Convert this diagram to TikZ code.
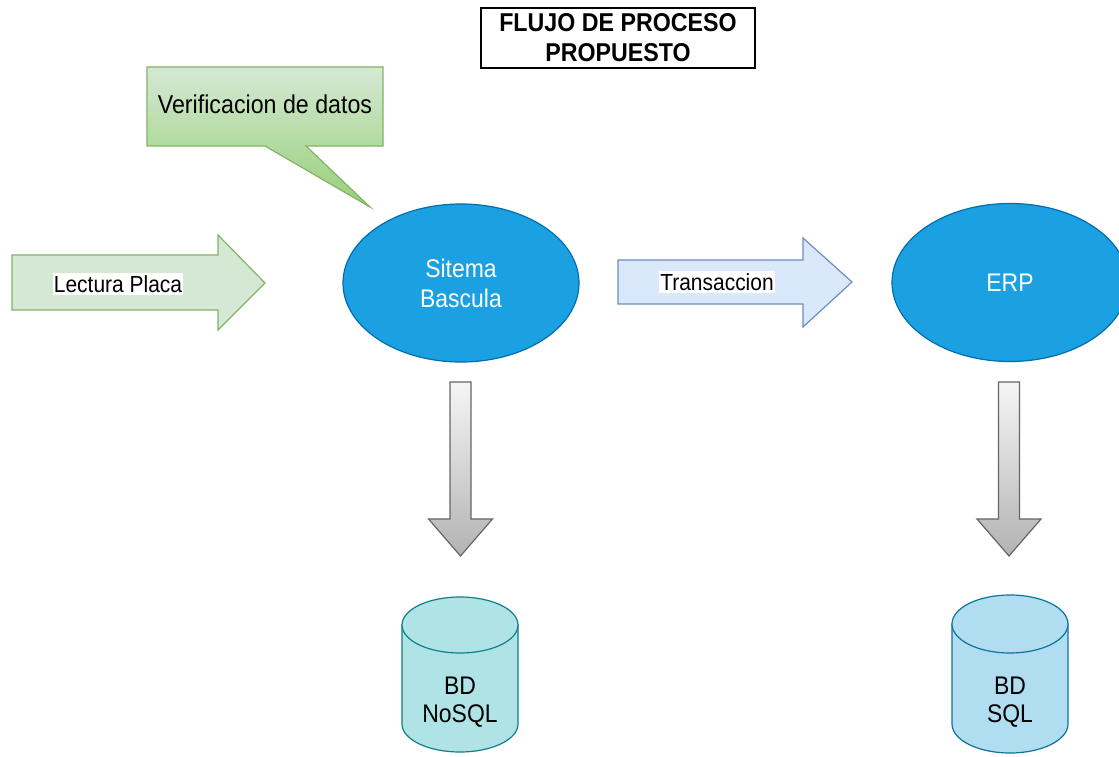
\documentclass[tikz,border=0pt]{standalone}
\usepackage{fontspec}
\setmainfont{Liberation Sans}[FakeStretch=0.9]
\usetikzlibrary{shapes.geometric}
\definecolor{gfill}{HTML}{D5E8D4}
\definecolor{gdark}{HTML}{97D077}
\definecolor{gline}{HTML}{82B366}
\definecolor{bfill}{HTML}{DAE8FC}
\definecolor{bline}{HTML}{6C8EBF}
\definecolor{efill}{HTML}{1BA1E2}
\definecolor{eline}{HTML}{006EAF}
\definecolor{nfill}{HTML}{B0E3E6}
\definecolor{nline}{HTML}{0E8088}
\definecolor{sfill}{HTML}{B1DDF0}
\definecolor{sline}{HTML}{10739E}
\definecolor{glight}{HTML}{F5F5F5}
\definecolor{gmid}{HTML}{B3B3B3}
\definecolor{gstroke}{HTML}{666666}
\tikzset{
  ovalnode/.style={ellipse, draw=eline, fill=efill, line width=1.2pt, minimum width=236pt, minimum height=158pt, inner sep=0pt, text=white, align=center, font=\fontsize{25.5}{30}\selectfont},
  lbl/.style={fill=white, inner xsep=1pt, inner ysep=2pt, font=\fontsize{23.3}{25}\selectfont},
  dbtext/.style={align=center, font=\fontsize{25.5}{28}\selectfont},
  downarrow/.style={draw=gstroke, line width=1.2pt, top color=glight, bottom color=gmid},
}
\begin{document}
\begin{tikzpicture}[x=1pt,y=-1pt]
\useasboundingbox (0,0) rectangle (1119,757);
\clip (0,0) rectangle (1119,757);
\fill[white] (0,0) rectangle (1119,757);

% title
\draw[line width=2pt] (481,8) rectangle (755,68);
\node[align=center, font=\bfseries\fontsize{25.8}{30}\selectfont] (title) at (618,38) {FLUJO DE PROCESO\\PROPUESTO};

% callout
\draw[draw=gline, line width=1.2pt, top color=gfill, bottom color=gdark]
  (147,67) -- (383,67) -- (383,146) -- (306,146) -- (370,207) -- (265,146) -- (147,146) -- cycle;
\node[font=\fontsize{25.8}{28}\selectfont] (verif) at (265,104) {Verificacion de datos};

% Lectura Placa arrow
\draw[draw=gline, fill=gfill, line width=1.2pt]
  (12,255) -- (218,255) -- (218,235) -- (265,283) -- (218,330) -- (218,310) -- (12,310) -- cycle;
\node[lbl] (lectura) at (118,284) {Lectura Placa};

% ellipses
\node[ovalnode] (bascula) at (461,283) {Sitema\\Bascula};
\node[ovalnode] (erp) at (1010,282.5) {ERP};

% Transaccion arrow
\draw[draw=bline, fill=bfill, line width=1.2pt]
  (618,260) -- (803,260) -- (803,238) -- (852,282) -- (803,327) -- (803,304) -- (618,304) -- cycle;
\node[lbl] (trans) at (717,282) {Transaccion};

% down arrows
\draw[downarrow] (450,382) -- (471,382) -- (471,519) -- (492.5,519) -- (460.5,556) -- (428.5,519) -- (450,519) -- cycle;
\draw[downarrow] (998.5,382) -- (1019.5,382) -- (1019.5,519) -- (1041,519) -- (1009,556) -- (977,519) -- (998.5,519) -- cycle;

% NoSQL cylinder
\draw[draw=nline, fill=nfill, line width=1.2pt]
  (402,625) -- (402,724) arc[start angle=180, end angle=0, x radius=58, y radius=28] -- (518,625) -- cycle;
\draw[draw=nline, fill=nfill, line width=1.2pt] (460,625) ellipse [x radius=58, y radius=28];
\node[dbtext] (nosql) at (460,702) {BD\\NoSQL};

% SQL cylinder
\draw[draw=sline, fill=sfill, line width=1.2pt]
  (952,624) -- (952,724) arc[start angle=180, end angle=0, x radius=58, y radius=29] -- (1068,624) -- cycle;
\draw[draw=sline, fill=sfill, line width=1.2pt] (1010,624) ellipse [x radius=58, y radius=29];
\node[dbtext] (sql) at (1010,702) {BD\\SQL};
\end{tikzpicture}
\end{document}
